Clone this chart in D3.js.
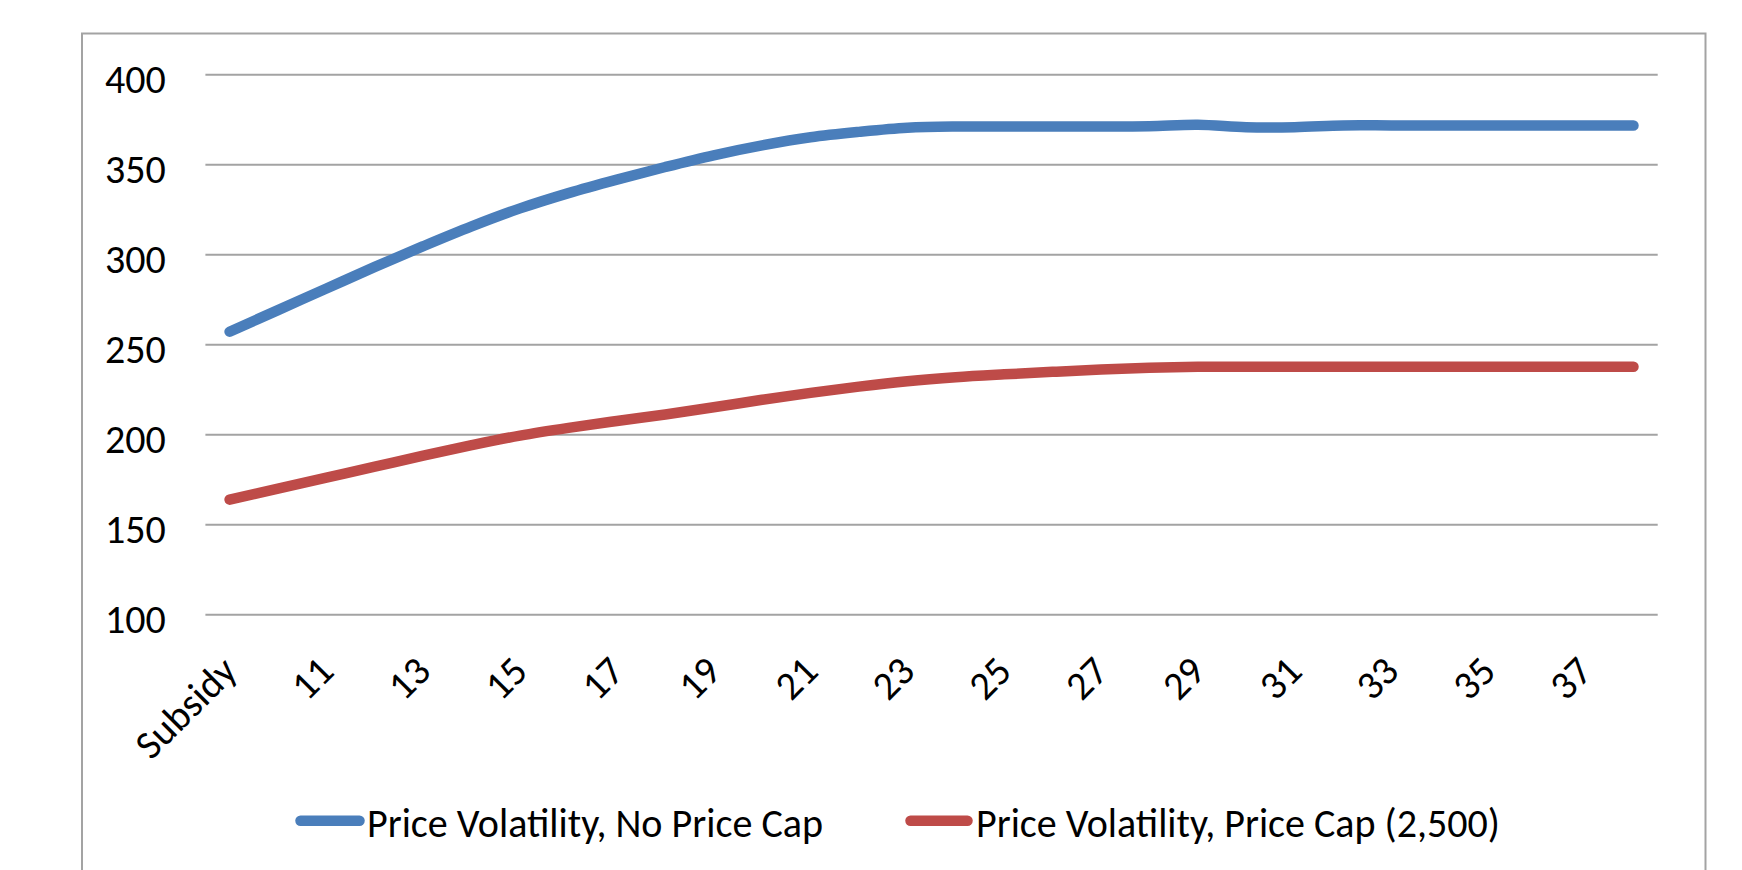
<!DOCTYPE html>
<html>
<head>
<meta charset="utf-8">
<script src="https://cdn.jsdelivr.net/npm/d3@7"></script>
<style>
  html, body { margin: 0; padding: 0; background: #ffffff; }
  svg { display: block; }
  text { font-family: Carlito, Lato, "Open Sans", sans-serif; fill: #000; }
</style>
</head>
<body>
<svg id="chart" width="1742" height="870"></svg>
<script>
const categories = ["Subsidy","10","11","12","13","14","15","16","17","18","19","20","21","22","23","24","25","26","27","28","29","30","31","32","33","34","35","36","37","38"];
const shownLabels = ["Subsidy","11","13","15","17","19","21","23","25","27","29","31","33","35","37"];
const noCap = [257, 269, 281, 293, 304.5, 315.5, 325.5, 334, 341.5, 348.5, 355, 360.5, 365, 368, 370.3, 371, 371, 371, 371, 371.2, 372, 370.6, 370.6, 371.6, 371.6, 371.6, 371.6, 371.6, 371.6, 371.6];
const withCap = [163.7, 169.8, 175.9, 182, 188.2, 194, 199.3, 203.6, 207.4, 211, 215, 219.2, 223, 226.5, 229.5, 231.7, 233.3, 234.7, 236, 237, 237.5, 237.5, 237.5, 237.5, 237.5, 237.5, 237.5, 237.5, 237.5, 237.5];
const yTicks = [100, 150, 200, 250, 300, 350, 400];
const seriesNames = ["Price Volatility, No Price Cap", "Price Volatility, Price Cap (2,500)"];
const seriesColors = ["#4a7ebb", "#be4b48"];

const svg = d3.select("#chart");
svg.append("rect").attr("width", 1742).attr("height", 870).attr("fill", "#fff");

// outer chart frame
svg.append("rect")
  .attr("x", 82).attr("y", 33.5)
  .attr("width", 1623.5).attr("height", 900)
  .attr("fill", "none").attr("stroke", "#a3a3a3").attr("stroke-width", 2);

const plotLeft = 205.4, plotRight = 1657.7;
const x = d3.scalePoint().domain(categories).range([plotLeft, plotRight]).padding(0.5);
const y = d3.scaleLinear().domain([100, 400]).range([614.3, 74.3]);

// gridlines
const yAxis = d3.axisLeft(y).tickValues(yTicks)
  .tickSize(-(plotRight - plotLeft)).tickFormat(d => d).tickPadding(0);
const gy = svg.append("g").attr("transform", `translate(${plotLeft},0)`).call(yAxis);
gy.select(".domain").remove();
gy.selectAll(".tick line").attr("stroke", "#a3a3a3").attr("stroke-width", 2);
gy.selectAll(".tick text")
  .attr("x", -39.5).attr("dy", null).attr("y", 18)
  .attr("text-anchor", "end")
  .style("font-size", "40px");

// x axis labels
const xAxis = d3.axisBottom(x).tickSize(0)
  .tickFormat(d => shownLabels.includes(d) ? d : "");
const gx = svg.append("g").attr("transform", `translate(0,${y(100)})`).call(xAxis);
gx.select(".domain").remove();
gx.selectAll(".tick text")
  .attr("x", 0).attr("y", 0).attr("dy", null)
  .attr("text-anchor", "end")
  .attr("transform", "translate(9,59) rotate(-45)")
  .style("font-size", "40px");

// lines
const line = d3.line()
  .x((d, i) => x(categories[i]))
  .y(d => y(d))
  .curve(d3.curveCatmullRom.alpha(0.5));

[noCap, withCap].forEach((s, k) => {
  svg.append("path")
    .datum(s)
    .attr("d", line)
    .attr("fill", "none")
    .attr("stroke", seriesColors[k])
    .attr("stroke-width", 10.5)
    .attr("stroke-linecap", "round")
    .attr("stroke-linejoin", "round");
});

// legend
const legendItems = [
  { x1: 300.5, x2: 359.5, tx: 367, tl: 456 },
  { x1: 910.5, x2: 967.5, tx: 976, tl: 524 }
];
legendItems.forEach((it, k) => {
  svg.append("line")
    .attr("x1", it.x1).attr("x2", it.x2)
    .attr("y1", 820.7).attr("y2", 820.7)
    .attr("stroke", seriesColors[k]).attr("stroke-width", 10.5)
    .attr("stroke-linecap", "round");
  svg.append("text")
    .attr("x", it.tx).attr("y", 836.7)
    .attr("textLength", it.tl).attr("lengthAdjust", "spacingAndGlyphs")
    .style("font-size", "40px")
    .text(seriesNames[k]);
});
</script>
</body>
</html>
